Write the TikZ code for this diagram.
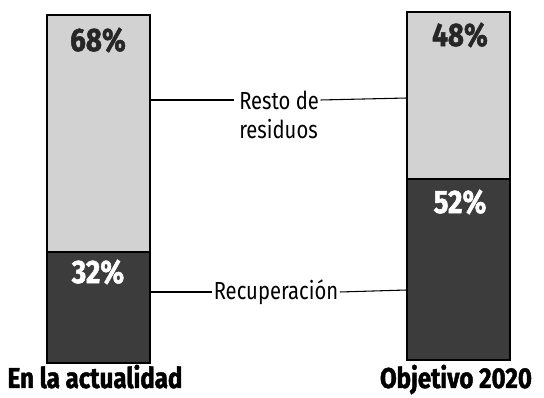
\documentclass[tikz,border=0pt]{standalone}
\usepackage{fontspec}
\setmainfont{Fira Sans}[FakeStretch=0.82]
\newfontfamily\heavyfont{Fira Sans}[FakeStretch=0.85,FakeBold=1.5,BoldFont={* Bold}]
\newfontfamily\capfont{Fira Sans}[FakeStretch=0.84,FakeBold=1.5,BoldFont={* Bold}]
\definecolor{lightgrey}{HTML}{D2D2D2}
\definecolor{darkgrey}{HTML}{3C3C3C}
\begin{document}
\begin{tikzpicture}[x=0.75pt,y=-0.75pt,
  barlight/.style={fill=lightgrey,draw=black,line width=0.9pt},
  bardark/.style={fill=darkgrey,draw=black,line width=0.9pt},
  pcttext/.style={font=\heavyfont\bfseries\fontsize{24.5}{26}\selectfont,inner sep=0pt},
  lbl/.style={font=\fontsize{18.5}{20}\selectfont,inner sep=0pt,align=left},
  captext/.style={font=\capfont\bfseries\fontsize{21.5}{24}\selectfont,inner sep=0pt,anchor=base},
  leader/.style={line width=0.8pt}]
\useasboundingbox (0,0) rectangle (544,398);
% left bar
\path[barlight] (47,15) rectangle (150,252);
\path[bardark] (47,252) rectangle (150,363);
% right bar
\path[barlight] (407,12) rectangle (510,179);
\path[bardark] (407,179) rectangle (510,360);
\coordinate (lb) at (150,100);
\coordinate (rb) at (407,98);
\coordinate (lb2) at (150,292);
\coordinate (rb2) at (407,290);
\node[pcttext,text=black!85] (p68) at (98,40) {68\%};
\node[pcttext,text=white] (p32) at (98,272) {32\%};
\node[pcttext,text=black!85] (p48) at (460,35) {48\%};
\node[pcttext,text=white] (p52) at (460,202) {52\%};
\node[lbl,anchor=west] (r1) at (239,100) {Resto de};
\node[lbl,anchor=west] (r2) at (239,129) {residuos};
\node[lbl] (rec) at (276,292) {Recuperación};
\draw[leader] (lb) -- ([xshift=-4pt]r1.west);
\draw[leader] ([xshift=1pt]r1.east) -- (rb);
\draw[leader] (lb2) -- ([xshift=-1pt]rec.west);
\draw[leader] ([xshift=1pt]rec.east) -- (rb2);
\node[captext] (c1) at (95,388) {En la actualidad};
\node[captext] (c2) at (456,388) {Objetivo 2020};
\end{tikzpicture}
\end{document}
